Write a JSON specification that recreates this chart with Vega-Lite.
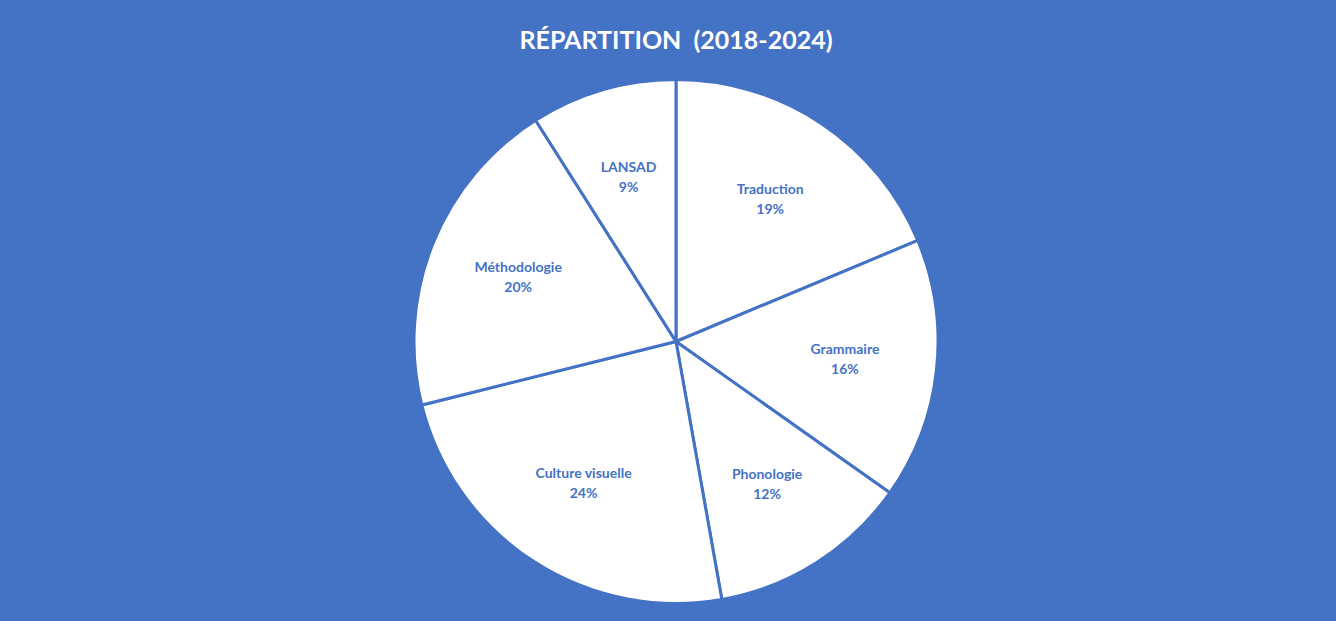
{
  "$schema": "https://vega.github.io/schema/vega-lite/v6.json",
  "background": "#4472C4",
  "autosize": "none",
  "width": 1312,
  "height": 537,
  "padding": {"left": 20, "right": 4, "top": 73, "bottom": 11},
  "title": {
    "text": "RÉPARTITION \u00a0(2018-2024)",
    "color": "white",
    "font": "Lato",
    "fontSize": 25,
    "fontWeight": "bold",
    "anchor": "middle",
    "frame": "group",
    "baseline": "middle",
    "offset": 7
  },
  "data": {
    "values": [
      {"rang": 1, "categorie": "Traduction", "part": 0.187},
      {"rang": 2, "categorie": "Grammaire", "part": 0.161},
      {"rang": 3, "categorie": "Phonologie", "part": 0.124},
      {"rang": 4, "categorie": "Culture visuelle", "part": 0.239},
      {"rang": 5, "categorie": "Méthodologie", "part": 0.199},
      {"rang": 6, "categorie": "LANSAD", "part": 0.09}
    ]
  },
  "encoding": {
    "theta": {"field": "part", "type": "quantitative", "stack": true},
    "order": {"field": "rang", "type": "quantitative", "sort": "ascending"}
  },
  "layer": [
    {
      "mark": {"type": "arc", "radius": 262, "fill": "white", "stroke": "#4472C4", "strokeWidth": 3}
    },
    {
      "mark": {"type": "text", "radius": 170, "dy": -10, "font": "Lato", "fontSize": 14, "fontWeight": "bold", "fill": "#4472C4"},
      "encoding": {"text": {"field": "categorie", "type": "nominal"}}
    },
    {
      "mark": {"type": "text", "radius": 170, "dy": 10, "font": "Lato", "fontSize": 14, "fontWeight": "bold", "fill": "#4472C4"},
      "encoding": {"text": {"field": "part", "type": "quantitative", "format": ".0%"}}
    }
  ],
  "config": {"view": {"stroke": null}}
}
